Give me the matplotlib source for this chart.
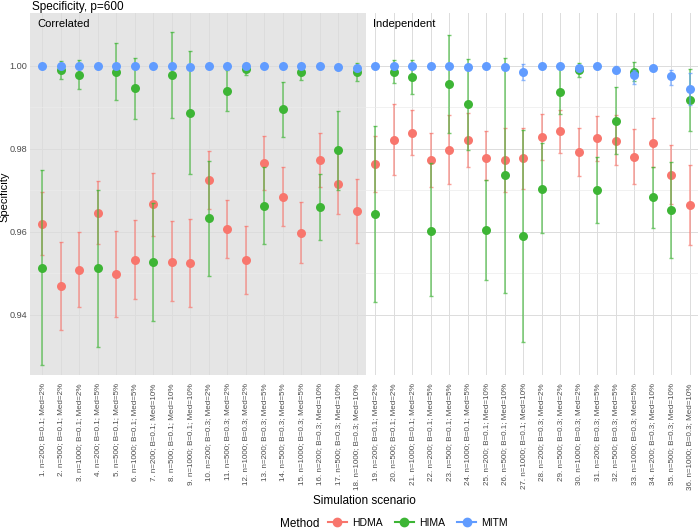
import numpy as np
import matplotlib
matplotlib.use("Agg")
import matplotlib.pyplot as plt
from matplotlib.lines import Line2D

plt.rcParams['font.family'] = ['Liberation Sans', 'DejaVu Sans']

# scenario labels
structures = ["Correlated", "Independent"]
b_values = ["0.1", "0.3"]
med_values = ["2%", "5%", "10%"]
n_values = ["200", "500", "1000"]
labels = []
k = 1
for s in structures:
    for b in b_values:
        for m in med_values:
            for n in n_values:
                labels.append(f"{k}. n={n}; B={b}; Med={m}")
                k += 1

hdma = [0.9619, 0.9469, 0.9508, 0.9646, 0.9498, 0.9533, 0.9666, 0.9528, 0.9524,
        0.9725, 0.9607, 0.9531, 0.9766, 0.9685, 0.9597, 0.9774, 0.9716, 0.9651,
        0.9764, 0.9822, 0.9839, 0.9772, 0.9798, 0.9821, 0.9778, 0.9773, 0.9777,
        0.9828, 0.9843, 0.9792, 0.9825, 0.9820, 0.9781, 0.9814, 0.9738, 0.9664]
hdma_lo = [0.9543, 0.9362, 0.9418, 0.9570, 0.9394, 0.9439, 0.9590, 0.9432, 0.9418,
           0.9655, 0.9536, 0.9449, 0.9701, 0.9615, 0.9524, 0.9709, 0.9643, 0.9573,
           0.9697, 0.9737, 0.9784, 0.9708, 0.9714, 0.9757, 0.9725, 0.9697, 0.9703,
           0.9773, 0.9791, 0.9735, 0.9770, 0.9761, 0.9715, 0.9757, 0.9668, 0.9569]
hdma_hi = [0.9695, 0.9575, 0.9599, 0.9722, 0.9602, 0.9629, 0.9742, 0.9626, 0.9630,
           0.9795, 0.9677, 0.9613, 0.9831, 0.9756, 0.9671, 0.9839, 0.9791, 0.9727,
           0.9830, 0.9908, 0.9894, 0.9838, 0.9881, 0.9886, 0.9843, 0.9850, 0.9850,
           0.9884, 0.9894, 0.9850, 0.9880, 0.9881, 0.9848, 0.9875, 0.9810, 0.9761]

hima = [0.9513, 0.9990, 0.9979, 0.9512, 0.9985, 0.9946, 0.9527, 0.9978, 0.9887,
        0.9632, 0.9940, 0.9992, 0.9663, 0.9895, 0.9986, 0.9659, 0.9796, 0.9985,
        0.9642, 0.9985, 0.9973, 0.9603, 0.9956, 0.9907, 0.9604, 0.9736, 0.9590,
        0.9704, 0.9936, 0.9991, 0.9700, 0.9867, 0.9986, 0.9684, 0.9653, 0.9918]
hima_lo = [0.9278, 0.9968, 0.9945, 0.9323, 0.9917, 0.9873, 0.9384, 0.9874, 0.9739,
           0.9494, 0.9890, 0.9977, 0.9570, 0.9828, 0.9965, 0.9581, 0.9700, 0.9963,
           0.9431, 0.9959, 0.9932, 0.9444, 0.9839, 0.9798, 0.9484, 0.9452, 0.9334,
           0.9597, 0.9884, 0.9973, 0.9621, 0.9787, 0.9964, 0.9610, 0.9537, 0.9843]
hima_hi = [0.9748, 1.0012, 1.0014, 0.9700, 1.0054, 1.0020, 0.9669, 1.0081, 1.0035,
           0.9771, 0.9990, 1.0006, 0.9757, 0.9962, 1.0004, 0.9739, 0.9892, 1.0006,
           0.9854, 1.0013, 1.0014, 0.9766, 1.0074, 1.0016, 0.9725, 1.0019, 0.9846,
           0.9813, 0.9992, 1.0007, 0.9781, 0.9949, 1.0009, 0.9757, 0.9769, 0.9993]

mitm = [1.0, 1.0, 1.0, 1.0, 1.0, 1.0, 1.0, 1.0, 0.9998,
        1.0, 1.0, 1.0, 1.0, 0.9999, 1.0, 1.0, 0.9997, 0.9994,
        1.0, 1.0, 1.0, 1.0, 1.0, 0.9997, 1.0, 0.9997, 0.9984,
        1.0, 1.0, 0.9995, 1.0, 0.9991, 0.9978, 0.9995, 0.9975, 0.9945]
mitm_lo = [1.0, 1.0, 1.0, 1.0, 1.0, 1.0, 1.0, 1.0, 0.9996,
           1.0, 1.0, 1.0, 1.0, 0.9998, 1.0, 1.0, 0.9994, 0.9988,
           1.0, 1.0, 1.0, 1.0, 1.0, 0.9994, 1.0, 0.9994, 0.9965,
           1.0, 1.0, 0.9990, 1.0, 0.9983, 0.9957, 0.9990, 0.9953, 0.9906]
mitm_hi = [1.0, 1.0, 1.0, 1.0, 1.0, 1.0, 1.0, 1.0, 1.0,
           1.0, 1.0, 1.0, 1.0, 1.0, 1.0, 1.0, 1.0, 1.0,
           1.0, 1.0, 1.0, 1.0, 1.0, 1.0, 1.0, 1.0, 1.0004,
           1.0, 1.0, 1.0, 1.0, 1.0, 0.9990, 1.0, 0.9990, 0.9982]

methods = ["HDMA", "HIMA", "MITM"]
colors = {"HDMA": "#F8766D", "HIMA": "#3DB535", "MITM": "#619CFF"}
series = {"HDMA": (hdma, hdma_lo, hdma_hi),
          "HIMA": (hima, hima_lo, hima_hi),
          "MITM": (mitm, mitm_lo, mitm_hi)}

x = np.arange(1, len(labels) + 1)

fig = plt.figure(figsize=(7, 5.31), dpi=100)
ax = fig.add_axes([0.043, 0.294, 0.954, 0.682])

ax.set_xlim(0.35, 36.45)
ax.set_ylim(0.9255, 1.0128)

# grid
ax.set_yticks([0.94, 0.96, 0.98, 1.00])
ax.set_yticks([0.95, 0.97, 0.99], minor=True)
ax.set_xticks(x)
ax.grid(True, which='major', color='#DCDCDC', lw=0.7)
ax.grid(True, which='minor', axis='y', color='#EBEBEB', lw=0.5)
ax.set_axisbelow(True)

ax.axvspan(0.35, 18.5, color='#B0B0B0', alpha=0.33, lw=0, zorder=0.5)
ax.text(0.75, 1.0100, "Correlated", fontsize=8, va='center', ha='left')
ax.text(18.9, 1.0100, "Independent", fontsize=8, va='center', ha='left')

for i, m in enumerate(methods):
    v, lo, hi = [np.array(a) for a in series[m]]
    ax.errorbar(x, v, yerr=[v - lo, hi - v], fmt='none', ecolor=colors[m],
                elinewidth=1.1, capsize=1.2, capthick=1.0, alpha=0.7, zorder=2 + i)
    ax.scatter(x, v, s=42, color=colors[m], zorder=3 + i, lw=0)

ax.set_xticklabels(labels, rotation=90, fontsize=5.8, color='#4D4D4D')
ax.tick_params(axis='y', labelsize=6.6, labelcolor='#4D4D4D', length=0, pad=2)
ax.tick_params(axis='x', length=0, pad=6)
ax.tick_params(which='minor', length=0)
ax.yaxis.set_major_formatter(plt.FuncFormatter(lambda v, p: f"{v:.2f}"))
for s in ax.spines.values():
    s.set_visible(False)

fig.text(0.007, 0.629, "Specificity", fontsize=8, rotation=90, ha='center', va='center')
fig.text(0.52, 0.057, "Simulation scenario", fontsize=8.5, ha='center', va='center')
fig.text(0.046, 0.987, "Specificity, p=600", fontsize=8.5, ha='left', va='center')

handles = [Line2D([0], [0], color=colors[m], marker='o', markersize=6, lw=1.5) for m in methods]
fig.text(0.40, 0.014, "Method", fontsize=8.5, ha='left', va='center')
fig.legend(handles, methods, loc='center left', bbox_to_anchor=(0.455, 0.015), ncol=3,
           frameon=False, fontsize=7.5, handlelength=1.8, columnspacing=1.2, handletextpad=0.5)

fig.savefig("out.png", dpi=100)
